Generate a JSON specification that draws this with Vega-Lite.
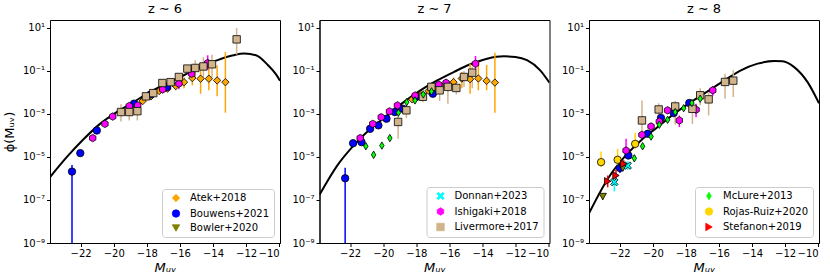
{
"$schema":"https://vega.github.io/schema/vega-lite/v6.json",
"padding":{"left":2,"top":2,"right":4,"bottom":3},
"config":{
 "font":"DejaVu Sans",
 "view":{"stroke":"black","strokeWidth":1},
 "axis":{"grid":false,"domainColor":"black","domainWidth":1,"tickColor":"black","tickSize":3.5,"labelColor":"black","labelFontSize":10,"labelPadding":2,"labelOverlap":false,"labelSeparation":0,"titleColor":"black","titleFontSize":13,"titleFontWeight":"normal","titlePadding":3},
 "axisX":{"labelOverlap":false,"tickCount":7},
 "title":{"fontSize":13,"fontWeight":"normal","color":"black","offset":4},
 "legend":{"orient":"bottom-right","offset":6,"fillColor":"white","strokeColor":"#cccccc","cornerRadius":3,"padding":4,"rowPadding":3.5,"labelFontSize":10,"labelColor":"black","symbolSize":55,"labelOffset":9,"symbolOffset":5,"symbolStrokeColor":"black","symbolStrokeWidth":0.8}
},
"bounds":"flush",
"spacing":39.5,
"resolve":{"scale":{"color":"independent","shape":"independent"},"legend":{"color":"independent","shape":"independent"}},
"datasets":{
"pts6":[
{"s":"Atek+2018","M":-18.25,"logphi":-2.40,"lo":-2.50,"hi":-2.30},
{"s":"Atek+2018","M":-17.75,"logphi":-2.18,"lo":-2.28,"hi":-2.08},
{"s":"Atek+2018","M":-17.25,"logphi":-1.93,"lo":-2.03,"hi":-1.83},
{"s":"Atek+2018","M":-16.75,"logphi":-1.82,"lo":-1.95,"hi":-1.70},
{"s":"Atek+2018","M":-16.25,"logphi":-1.70,"lo":-1.90,"hi":-1.52},
{"s":"Atek+2018","M":-15.75,"logphi":-1.52,"lo":-1.80,"hi":-1.30},
{"s":"Atek+2018","M":-15.25,"logphi":-1.33,"lo":-1.67,"hi":-1.15},
{"s":"Atek+2018","M":-14.75,"logphi":-1.36,"lo":-2.06,"hi":-0.82},
{"s":"Atek+2018","M":-14.25,"logphi":-1.36,"lo":-1.90,"hi":-0.58},
{"s":"Atek+2018","M":-13.75,"logphi":-1.44,"lo":-2.17,"hi":-0.74},
{"s":"Atek+2018","M":-13.25,"logphi":-1.52,"lo":-2.94,"hi":-0.12},
{"s":"Bouwens+2021","M":-22.52,"logphi":-5.68,"lo":-10,"hi":-5.37},
{"s":"Bouwens+2021","M":-22.02,"logphi":-4.82,"lo":-4.95,"hi":-4.70},
{"s":"Bouwens+2021","M":-21.02,"logphi":-3.77,"lo":-3.85,"hi":-3.70},
{"s":"Bouwens+2021","M":-18.77,"logphi":-2.52,"lo":-2.60,"hi":-2.45},
{"s":"Bouwens+2021","M":-17.77,"logphi":-2.09,"lo":-2.17,"hi":-2.02},
{"s":"Bouwens+2021","M":-16.77,"logphi":-1.75,"lo":-1.85,"hi":-1.66},
{"s":"Ishigaki+2018","M":-21.27,"logphi":-4.12,"lo":-4.22,"hi":-4.02},
{"s":"Ishigaki+2018","M":-20.53,"logphi":-3.46,"lo":-3.54,"hi":-3.38},
{"s":"Ishigaki+2018","M":-20.06,"logphi":-3.12,"lo":-3.20,"hi":-3.05},
{"s":"Ishigaki+2018","M":-19.06,"logphi":-2.63,"lo":-2.72,"hi":-2.55},
{"s":"Ishigaki+2018","M":-18.55,"logphi":-2.60,"lo":-2.75,"hi":-2.45},
{"s":"Ishigaki+2018","M":-17.04,"logphi":-1.86,"lo":-1.98,"hi":-1.75},
{"s":"Ishigaki+2018","M":-16.06,"logphi":-1.59,"lo":-1.85,"hi":-1.45},
{"s":"Ishigaki+2018","M":-15.29,"logphi":-1.13,"lo":-1.30,"hi":-0.98},
{"s":"Ishigaki+2018","M":-14.32,"logphi":-0.63,"lo":-0.95,"hi":-0.27},
{"s":"Livermore+2017","M":-19.56,"logphi":-2.91,"lo":-3.35,"hi":-2.55},
{"s":"Livermore+2017","M":-19.06,"logphi":-2.91,"lo":-3.30,"hi":-2.60},
{"s":"Livermore+2017","M":-18.57,"logphi":-2.87,"lo":-3.30,"hi":-2.55},
{"s":"Livermore+2017","M":-18.05,"logphi":-2.18,"lo":-2.35,"hi":-2.05},
{"s":"Livermore+2017","M":-17.61,"logphi":-2.03,"lo":-2.15,"hi":-1.90},
{"s":"Livermore+2017","M":-17.06,"logphi":-1.56,"lo":-1.70,"hi":-1.45},
{"s":"Livermore+2017","M":-16.56,"logphi":-1.52,"lo":-1.65,"hi":-1.40},
{"s":"Livermore+2017","M":-16.06,"logphi":-1.28,"lo":-1.45,"hi":-1.15},
{"s":"Livermore+2017","M":-15.55,"logphi":-0.89,"lo":-1.10,"hi":-0.75},
{"s":"Livermore+2017","M":-15.07,"logphi":-0.86,"lo":-1.30,"hi":-0.50},
{"s":"Livermore+2017","M":-14.58,"logphi":-0.79,"lo":-1.30,"hi":-0.35},
{"s":"Livermore+2017","M":-14.06,"logphi":-0.69,"lo":-1.30,"hi":-0.25},
{"s":"Livermore+2017","M":-12.57,"logphi":0.47,"lo":-0.24,"hi":1.0}
],
"pts7":[
{"s":"Atek+2018","M":-18.25,"logphi":-2.32,"lo":-2.42,"hi":-2.22},
{"s":"Atek+2018","M":-17.75,"logphi":-2.10,"lo":-2.20,"hi":-2.00},
{"s":"Atek+2018","M":-17.25,"logphi":-1.92,"lo":-2.02,"hi":-1.82},
{"s":"Atek+2018","M":-16.75,"logphi":-1.78,"lo":-1.90,"hi":-1.66},
{"s":"Atek+2018","M":-16.25,"logphi":-1.62,"lo":-1.80,"hi":-1.45},
{"s":"Atek+2018","M":-15.75,"logphi":-1.52,"lo":-1.80,"hi":-1.30},
{"s":"Atek+2018","M":-15.25,"logphi":-1.35,"lo":-1.80,"hi":-1.05},
{"s":"Atek+2018","M":-14.75,"logphi":-1.38,"lo":-2.06,"hi":-0.66},
{"s":"Atek+2018","M":-14.25,"logphi":-1.35,"lo":-1.90,"hi":-0.55},
{"s":"Atek+2018","M":-13.75,"logphi":-1.46,"lo":-1.90,"hi":-0.72},
{"s":"Atek+2018","M":-13.25,"logphi":-1.54,"lo":-2.94,"hi":-0.15},
{"s":"Bouwens+2021","M":-22.30,"logphi":-5.99,"lo":-10,"hi":-5.50},
{"s":"Bouwens+2021","M":-21.82,"logphi":-4.36,"lo":-4.45,"hi":-4.27},
{"s":"Bouwens+2021","M":-21.31,"logphi":-4.31,"lo":-4.42,"hi":-4.20},
{"s":"Bouwens+2021","M":-20.79,"logphi":-3.69,"lo":-3.77,"hi":-3.61},
{"s":"Bouwens+2021","M":-20.29,"logphi":-3.53,"lo":-3.60,"hi":-3.46},
{"s":"Bouwens+2021","M":-19.80,"logphi":-3.22,"lo":-3.28,"hi":-3.16},
{"s":"Bouwens+2021","M":-19.30,"logphi":-2.91,"lo":-2.97,"hi":-2.85},
{"s":"Bouwens+2021","M":-18.81,"logphi":-2.76,"lo":-2.82,"hi":-2.70},
{"s":"Bouwens+2021","M":-18.01,"logphi":-2.21,"lo":-2.28,"hi":-2.14},
{"s":"Bouwens+2021","M":-17.00,"logphi":-2.06,"lo":-2.15,"hi":-1.97},
{"s":"Ishigaki+2018","M":-21.39,"logphi":-4.12,"lo":-4.22,"hi":-4.02},
{"s":"Ishigaki+2018","M":-20.63,"logphi":-3.46,"lo":-3.54,"hi":-3.38},
{"s":"Ishigaki+2018","M":-20.12,"logphi":-3.15,"lo":-3.22,"hi":-3.08},
{"s":"Ishigaki+2018","M":-19.62,"logphi":-2.88,"lo":-2.95,"hi":-2.81},
{"s":"Ishigaki+2018","M":-19.14,"logphi":-2.60,"lo":-2.68,"hi":-2.52},
{"s":"Ishigaki+2018","M":-18.07,"logphi":-2.14,"lo":-2.22,"hi":-2.06},
{"s":"Ishigaki+2018","M":-16.64,"logphi":-1.64,"lo":-1.75,"hi":-1.53},
{"s":"Ishigaki+2018","M":-16.20,"logphi":-1.55,"lo":-1.68,"hi":-1.45},
{"s":"Ishigaki+2018","M":-14.42,"logphi":-0.66,"lo":-0.95,"hi":-0.30},
{"s":"Livermore+2017","M":-19.10,"logphi":-3.37,"lo":-4.15,"hi":-3.05},
{"s":"Livermore+2017","M":-18.60,"logphi":-2.83,"lo":-3.20,"hi":-2.60},
{"s":"Livermore+2017","M":-17.60,"logphi":-2.20,"lo":-2.45,"hi":-2.05},
{"s":"Livermore+2017","M":-17.09,"logphi":-1.74,"lo":-1.90,"hi":-1.60},
{"s":"Livermore+2017","M":-16.59,"logphi":-1.90,"lo":-2.40,"hi":-1.65},
{"s":"Livermore+2017","M":-16.09,"logphi":-1.74,"lo":-2.53,"hi":-1.50},
{"s":"Livermore+2017","M":-15.58,"logphi":-1.79,"lo":-2.10,"hi":-1.55},
{"s":"Livermore+2017","M":-15.12,"logphi":-1.28,"lo":-1.75,"hi":-1.00},
{"s":"Livermore+2017","M":-14.62,"logphi":-1.08,"lo":-1.80,"hi":-0.80},
{"s":"McLure+2013","M":-21.05,"logphi":-4.50,"lo":-4.62,"hi":-4.38},
{"s":"McLure+2013","M":-20.58,"logphi":-4.90,"lo":-5.05,"hi":-4.75},
{"s":"McLure+2013","M":-20.08,"logphi":-4.47,"lo":-4.60,"hi":-4.35},
{"s":"McLure+2013","M":-19.60,"logphi":-4.12,"lo":-4.25,"hi":-4.00},
{"s":"McLure+2013","M":-19.08,"logphi":-2.94,"lo":-3.05,"hi":-2.83},
{"s":"McLure+2013","M":-18.58,"logphi":-2.45,"lo":-2.55,"hi":-2.35},
{"s":"McLure+2013","M":-18.08,"logphi":-2.37,"lo":-2.47,"hi":-2.27},
{"s":"McLure+2013","M":-17.58,"logphi":-2.09,"lo":-2.19,"hi":-1.99},
{"s":"McLure+2013","M":-17.08,"logphi":-1.95,"lo":-2.05,"hi":-1.85}
],
"pts8":[
{"s":"Bouwens+2021","M":-21.98,"logphi":-5.51,"lo":-5.75,"hi":-5.30},
{"s":"Bouwens+2021","M":-21.47,"logphi":-4.93,"lo":-5.10,"hi":-4.78},
{"s":"Bouwens+2021","M":-20.30,"logphi":-3.92,"lo":-4.02,"hi":-3.82},
{"s":"Bouwens+2021","M":-19.50,"logphi":-3.18,"lo":-3.28,"hi":-3.08},
{"s":"Bouwens+2021","M":-18.73,"logphi":-2.96,"lo":-3.05,"hi":-2.87},
{"s":"Bouwens+2021","M":-17.79,"logphi":-2.49,"lo":-2.60,"hi":-2.40},
{"s":"Bowler+2020","M":-23.02,"logphi":-6.84,"lo":-7.00,"hi":-6.70},
{"s":"Bowler+2020","M":-21.81,"logphi":-5.52,"lo":-5.65,"hi":-5.40},
{"s":"Donnan+2023","M":-22.32,"logphi":-6.17,"lo":-6.60,"hi":-5.95},
{"s":"Donnan+2023","M":-21.51,"logphi":-5.40,"lo":-5.60,"hi":-5.20},
{"s":"Ishigaki+2018","M":-21.61,"logphi":-4.70,"lo":-4.95,"hi":-4.15},
{"s":"Ishigaki+2018","M":-20.65,"logphi":-3.97,"lo":-4.08,"hi":-3.86},
{"s":"Ishigaki+2018","M":-20.10,"logphi":-3.58,"lo":-3.68,"hi":-3.48},
{"s":"Ishigaki+2018","M":-19.60,"logphi":-3.35,"lo":-3.45,"hi":-3.25},
{"s":"Ishigaki+2018","M":-19.10,"logphi":-2.83,"lo":-2.92,"hi":-2.74},
{"s":"Ishigaki+2018","M":-18.39,"logphi":-3.30,"lo":-3.61,"hi":-3.07},
{"s":"Ishigaki+2018","M":-17.38,"logphi":-2.80,"lo":-3.15,"hi":-2.52},
{"s":"Ishigaki+2018","M":-16.37,"logphi":-1.90,"lo":-2.15,"hi":-1.70},
{"s":"Livermore+2017","M":-20.65,"logphi":-3.30,"lo":-3.80,"hi":-2.37},
{"s":"Livermore+2017","M":-19.64,"logphi":-2.79,"lo":-3.10,"hi":-2.50},
{"s":"Livermore+2017","M":-18.64,"logphi":-2.65,"lo":-3.50,"hi":-2.40},
{"s":"Livermore+2017","M":-17.60,"logphi":-2.76,"lo":-3.46,"hi":-2.45},
{"s":"Livermore+2017","M":-17.13,"logphi":-2.13,"lo":-2.60,"hi":-1.80},
{"s":"Livermore+2017","M":-16.62,"logphi":-2.32,"lo":-3.07,"hi":-2.00},
{"s":"Livermore+2017","M":-15.63,"logphi":-1.51,"lo":-2.29,"hi":-1.13},
{"s":"Livermore+2017","M":-15.13,"logphi":-1.45,"lo":-2.21,"hi":-0.97},
{"s":"McLure+2013","M":-21.11,"logphi":-5.06,"lo":-5.20,"hi":-4.92},
{"s":"McLure+2013","M":-20.61,"logphi":-4.50,"lo":-4.62,"hi":-4.38},
{"s":"McLure+2013","M":-20.10,"logphi":-4.05,"lo":-4.15,"hi":-3.95},
{"s":"McLure+2013","M":-19.60,"logphi":-3.50,"lo":-3.60,"hi":-3.40},
{"s":"McLure+2013","M":-19.10,"logphi":-3.27,"lo":-3.37,"hi":-3.17},
{"s":"McLure+2013","M":-18.64,"logphi":-2.91,"lo":-3.00,"hi":-2.82},
{"s":"McLure+2013","M":-18.13,"logphi":-2.73,"lo":-2.82,"hi":-2.64},
{"s":"McLure+2013","M":-17.63,"logphi":-2.49,"lo":-2.58,"hi":-2.40},
{"s":"McLure+2013","M":-17.13,"logphi":-2.29,"lo":-2.39,"hi":-2.19},
{"s":"Rojas-Ruiz+2020","M":-23.12,"logphi":-5.24,"lo":-5.47,"hi":-4.74},
{"s":"Rojas-Ruiz+2020","M":-22.12,"logphi":-5.13,"lo":-5.40,"hi":-4.62},
{"s":"Rojas-Ruiz+2020","M":-21.06,"logphi":-4.39,"lo":-4.62,"hi":-3.87},
{"s":"Stefanon+2019","M":-22.72,"logphi":-6.13,"lo":-6.41,"hi":-5.86},
{"s":"Stefanon+2019","M":-22.22,"logphi":-5.86,"lo":-6.10,"hi":-5.60},
{"s":"Stefanon+2019","M":-21.75,"logphi":-5.32,"lo":-5.50,"hi":-5.15}
],
"c6":[
{"M":-23.85,"logphi":-5.94},{"M":-22.84,"logphi":-5.01},{"M":-21.84,"logphi":-4.19},{"M":-20.83,"logphi":-3.46},{"M":-19.82,"logphi":-2.91},{"M":-18.81,"logphi":-2.45},{"M":-17.81,"logphi":-1.98},{"M":-16.8,"logphi":-1.59},{"M":-15.79,"logphi":-1.21},{"M":-14.79,"logphi":-0.82},{"M":-13.78,"logphi":-0.51},{"M":-12.77,"logphi":-0.27},{"M":-12.1,"logphi":-0.19},{"M":-11.4,"logphi":-0.27},{"M":-10.69,"logphi":-0.72},{"M":-10.2,"logphi":-1.15},{"M":-9.95,"logphi":-1.45}
],
"c7":[
{"M":-23.85,"logphi":-6.76},{"M":-22.78,"logphi":-5.40},{"M":-21.78,"logphi":-4.46},{"M":-20.77,"logphi":-3.69},{"M":-19.76,"logphi":-3.07},{"M":-18.76,"logphi":-2.45},{"M":-17.75,"logphi":-1.90},{"M":-16.74,"logphi":-1.44},{"M":-15.74,"logphi":-1.05},{"M":-14.73,"logphi":-0.69},{"M":-13.72,"logphi":-0.43},{"M":-12.71,"logphi":-0.32},{"M":-12.01,"logphi":-0.35},{"M":-11.31,"logphi":-0.50},{"M":-10.51,"logphi":-0.97},{"M":-9.95,"logphi":-1.55}
],
"c8":[
{"M":-23.85,"logphi":-7.62},{"M":-22.72,"logphi":-6.02},{"M":-21.72,"logphi":-5.01},{"M":-20.71,"logphi":-4.23},{"M":-19.7,"logphi":-3.61},{"M":-18.7,"logphi":-2.99},{"M":-17.69,"logphi":-2.45},{"M":-16.68,"logphi":-1.95},{"M":-15.67,"logphi":-1.44},{"M":-14.67,"logphi":-0.97},{"M":-13.66,"logphi":-0.66},{"M":-12.65,"logphi":-0.54},{"M":-12.15,"logphi":-0.55},{"M":-11.45,"logphi":-0.82},{"M":-10.64,"logphi":-1.52},{"M":-9.95,"logphi":-2.5}
]
},
"hconcat":[
{"width":230,"height":223,"title":"z ∼ 6",
 "encoding":{
   "x":{"field":"M","type":"quantitative","scale":{"domain":[-23.85,-9.95],"nice":false,"zero":false},"axis":{"values":[-22,-20,-18,-16,-14,-12,-10],"tickCount":7,"labelOverlap":false,"title":"Mᵤᵥ","titleFontStyle":"italic"}},
   "y":{"field":"logphi","type":"quantitative","scale":{"domain":[-9,1.37],"nice":false,"zero":false},"axis":{"values":[-9,-7,-5,-3,-1,1],"labelOverlap":false,"labelExpr":"datum.value == 1 ? '10¹' : datum.value == -1 ? '10⁻¹' : datum.value == -3 ? '10⁻³' : datum.value == -5 ? '10⁻⁵' : datum.value == -7 ? '10⁻⁷' : '10⁻⁹'","title":"ϕ(Mᵤᵥ)","titlePadding":6}}},
 "layer":[
  {"data":{"name":"c6"},"mark":{"type":"line","color":"black","strokeWidth":2,"interpolate":"monotone","clip":true}},
  {"data":{"name":"pts6"},"mark":{"type":"rule","strokeWidth":1.5,"clip":true},
   "encoding":{"y":{"field":"lo","type":"quantitative"},"y2":{"field":"hi"},
   "color":{"field":"s","type":"nominal","scale":{"domain":["Atek+2018","Bouwens+2021","Bowler+2020","Donnan+2023","Ishigaki+2018","Livermore+2017","McLure+2013","Rojas-Ruiz+2020","Stefanon+2019"],"range":["#FFA500","#0000FF","#808000","#00FFFF","#FF00FF","#D2B48C","#00FF00","#FFD700","#FF0000"]}}}},
  {"data":{"name":"pts6"},"mark":{"type":"point","filled":true,"size":55,"stroke":"black","strokeWidth":0.8,"opacity":1},
   "encoding":{
   "color":{"field":"s","type":"nominal","scale":{"domain":["Atek+2018","Bouwens+2021","Bowler+2020","Donnan+2023","Ishigaki+2018","Livermore+2017","McLure+2013","Rojas-Ruiz+2020","Stefanon+2019"],"range":["#FFA500","#0000FF","#808000","#00FFFF","#FF00FF","#D2B48C","#00FF00","#FFD700","#FF0000"]},"legend":{"values":["Atek+2018","Bouwens+2021","Bowler+2020"],"title":null,"encode":{"symbols":{"update":{"stroke":{"value":"black"},"strokeWidth":{"value":0.8}}}}}},
   "shape":{"field":"s","type":"nominal","scale":{"domain":["Atek+2018","Bouwens+2021","Bowler+2020","Donnan+2023","Ishigaki+2018","Livermore+2017","McLure+2013","Rojas-Ruiz+2020","Stefanon+2019"],"range":["diamond","circle","triangle-down","M-1,-0.6L-0.6,-1L0,-0.4L0.6,-1L1,-0.6L0.4,0L1,0.6L0.6,1L0,0.4L-0.6,1L-1,0.6L-0.4,0Z","M0,-1L0.866,-0.5L0.866,0.5L0,1L-0.866,0.5L-0.866,-0.5Z","square","M0,-1L0.6,0L0,1L-0.6,0Z","circle","triangle-right"]},"legend":{"values":["Atek+2018","Bouwens+2021","Bowler+2020"],"title":null}}}}
 ]},
{"width":230,"height":223,"title":"z ∼ 7",
 "encoding":{
   "x":{"field":"M","type":"quantitative","scale":{"domain":[-23.85,-9.95],"nice":false,"zero":false},"axis":{"values":[-22,-20,-18,-16,-14,-12,-10],"tickCount":7,"labelOverlap":false,"title":"Mᵤᵥ","titleFontStyle":"italic"}},
   "y":{"field":"logphi","type":"quantitative","scale":{"domain":[-9,1.37],"nice":false,"zero":false},"axis":{"values":[-9,-7,-5,-3,-1,1],"labelOverlap":false,"labelExpr":"datum.value == 1 ? '10¹' : datum.value == -1 ? '10⁻¹' : datum.value == -3 ? '10⁻³' : datum.value == -5 ? '10⁻⁵' : datum.value == -7 ? '10⁻⁷' : '10⁻⁹'","title":null}}},
 "layer":[
  {"data":{"name":"c7"},"mark":{"type":"line","color":"black","strokeWidth":2,"interpolate":"monotone","clip":true}},
  {"data":{"name":"pts7"},"mark":{"type":"rule","strokeWidth":1.5,"clip":true},
   "encoding":{"y":{"field":"lo","type":"quantitative"},"y2":{"field":"hi"},
   "color":{"field":"s","type":"nominal","scale":{"domain":["Atek+2018","Bouwens+2021","Bowler+2020","Donnan+2023","Ishigaki+2018","Livermore+2017","McLure+2013","Rojas-Ruiz+2020","Stefanon+2019"],"range":["#FFA500","#0000FF","#808000","#00FFFF","#FF00FF","#D2B48C","#00FF00","#FFD700","#FF0000"]}}}},
  {"data":{"name":"pts7"},"mark":{"type":"point","filled":true,"size":55,"stroke":"black","strokeWidth":0.8,"opacity":1},
   "encoding":{
   "color":{"field":"s","type":"nominal","scale":{"domain":["Atek+2018","Bouwens+2021","Bowler+2020","Donnan+2023","Ishigaki+2018","Livermore+2017","McLure+2013","Rojas-Ruiz+2020","Stefanon+2019"],"range":["#FFA500","#0000FF","#808000","#00FFFF","#FF00FF","#D2B48C","#00FF00","#FFD700","#FF0000"]},"legend":{"values":["Donnan+2023","Ishigaki+2018","Livermore+2017"],"title":null,"encode":{"symbols":{"update":{"stroke":{"value":"black"},"strokeWidth":{"value":0.8}}}}}},
   "shape":{"field":"s","type":"nominal","scale":{"domain":["Atek+2018","Bouwens+2021","Bowler+2020","Donnan+2023","Ishigaki+2018","Livermore+2017","McLure+2013","Rojas-Ruiz+2020","Stefanon+2019"],"range":["diamond","circle","triangle-down","M-1,-0.6L-0.6,-1L0,-0.4L0.6,-1L1,-0.6L0.4,0L1,0.6L0.6,1L0,0.4L-0.6,1L-1,0.6L-0.4,0Z","M0,-1L0.866,-0.5L0.866,0.5L0,1L-0.866,0.5L-0.866,-0.5Z","square","M0,-1L0.6,0L0,1L-0.6,0Z","circle","triangle-right"]},"legend":{"values":["Donnan+2023","Ishigaki+2018","Livermore+2017"],"title":null}}}}
 ]},
{"width":230,"height":223,"title":"z ∼ 8",
 "encoding":{
   "x":{"field":"M","type":"quantitative","scale":{"domain":[-23.85,-9.95],"nice":false,"zero":false},"axis":{"values":[-22,-20,-18,-16,-14,-12,-10],"tickCount":7,"labelOverlap":false,"title":"Mᵤᵥ","titleFontStyle":"italic"}},
   "y":{"field":"logphi","type":"quantitative","scale":{"domain":[-9,1.37],"nice":false,"zero":false},"axis":{"values":[-9,-7,-5,-3,-1,1],"labelOverlap":false,"labelExpr":"datum.value == 1 ? '10¹' : datum.value == -1 ? '10⁻¹' : datum.value == -3 ? '10⁻³' : datum.value == -5 ? '10⁻⁵' : datum.value == -7 ? '10⁻⁷' : '10⁻⁹'","title":null}}},
 "layer":[
  {"data":{"name":"c8"},"mark":{"type":"line","color":"black","strokeWidth":2,"interpolate":"monotone","clip":true}},
  {"data":{"name":"pts8"},"mark":{"type":"rule","strokeWidth":1.5,"clip":true},
   "encoding":{"y":{"field":"lo","type":"quantitative"},"y2":{"field":"hi"},
   "color":{"field":"s","type":"nominal","scale":{"domain":["Atek+2018","Bouwens+2021","Bowler+2020","Donnan+2023","Ishigaki+2018","Livermore+2017","McLure+2013","Rojas-Ruiz+2020","Stefanon+2019"],"range":["#FFA500","#0000FF","#808000","#00FFFF","#FF00FF","#D2B48C","#00FF00","#FFD700","#FF0000"]}}}},
  {"data":{"name":"pts8"},"mark":{"type":"point","filled":true,"size":55,"stroke":"black","strokeWidth":0.8,"opacity":1},
   "encoding":{
   "color":{"field":"s","type":"nominal","scale":{"domain":["Atek+2018","Bouwens+2021","Bowler+2020","Donnan+2023","Ishigaki+2018","Livermore+2017","McLure+2013","Rojas-Ruiz+2020","Stefanon+2019"],"range":["#FFA500","#0000FF","#808000","#00FFFF","#FF00FF","#D2B48C","#00FF00","#FFD700","#FF0000"]},"legend":{"values":["McLure+2013","Rojas-Ruiz+2020","Stefanon+2019"],"title":null,"encode":{"symbols":{"update":{"stroke":{"value":"black"},"strokeWidth":{"value":0.8}}}}}},
   "shape":{"field":"s","type":"nominal","scale":{"domain":["Atek+2018","Bouwens+2021","Bowler+2020","Donnan+2023","Ishigaki+2018","Livermore+2017","McLure+2013","Rojas-Ruiz+2020","Stefanon+2019"],"range":["diamond","circle","triangle-down","M-1,-0.6L-0.6,-1L0,-0.4L0.6,-1L1,-0.6L0.4,0L1,0.6L0.6,1L0,0.4L-0.6,1L-1,0.6L-0.4,0Z","M0,-1L0.866,-0.5L0.866,0.5L0,1L-0.866,0.5L-0.866,-0.5Z","square","M0,-1L0.6,0L0,1L-0.6,0Z","circle","triangle-right"]},"legend":{"values":["McLure+2013","Rojas-Ruiz+2020","Stefanon+2019"],"title":null}}}}
 ]}
]
}
